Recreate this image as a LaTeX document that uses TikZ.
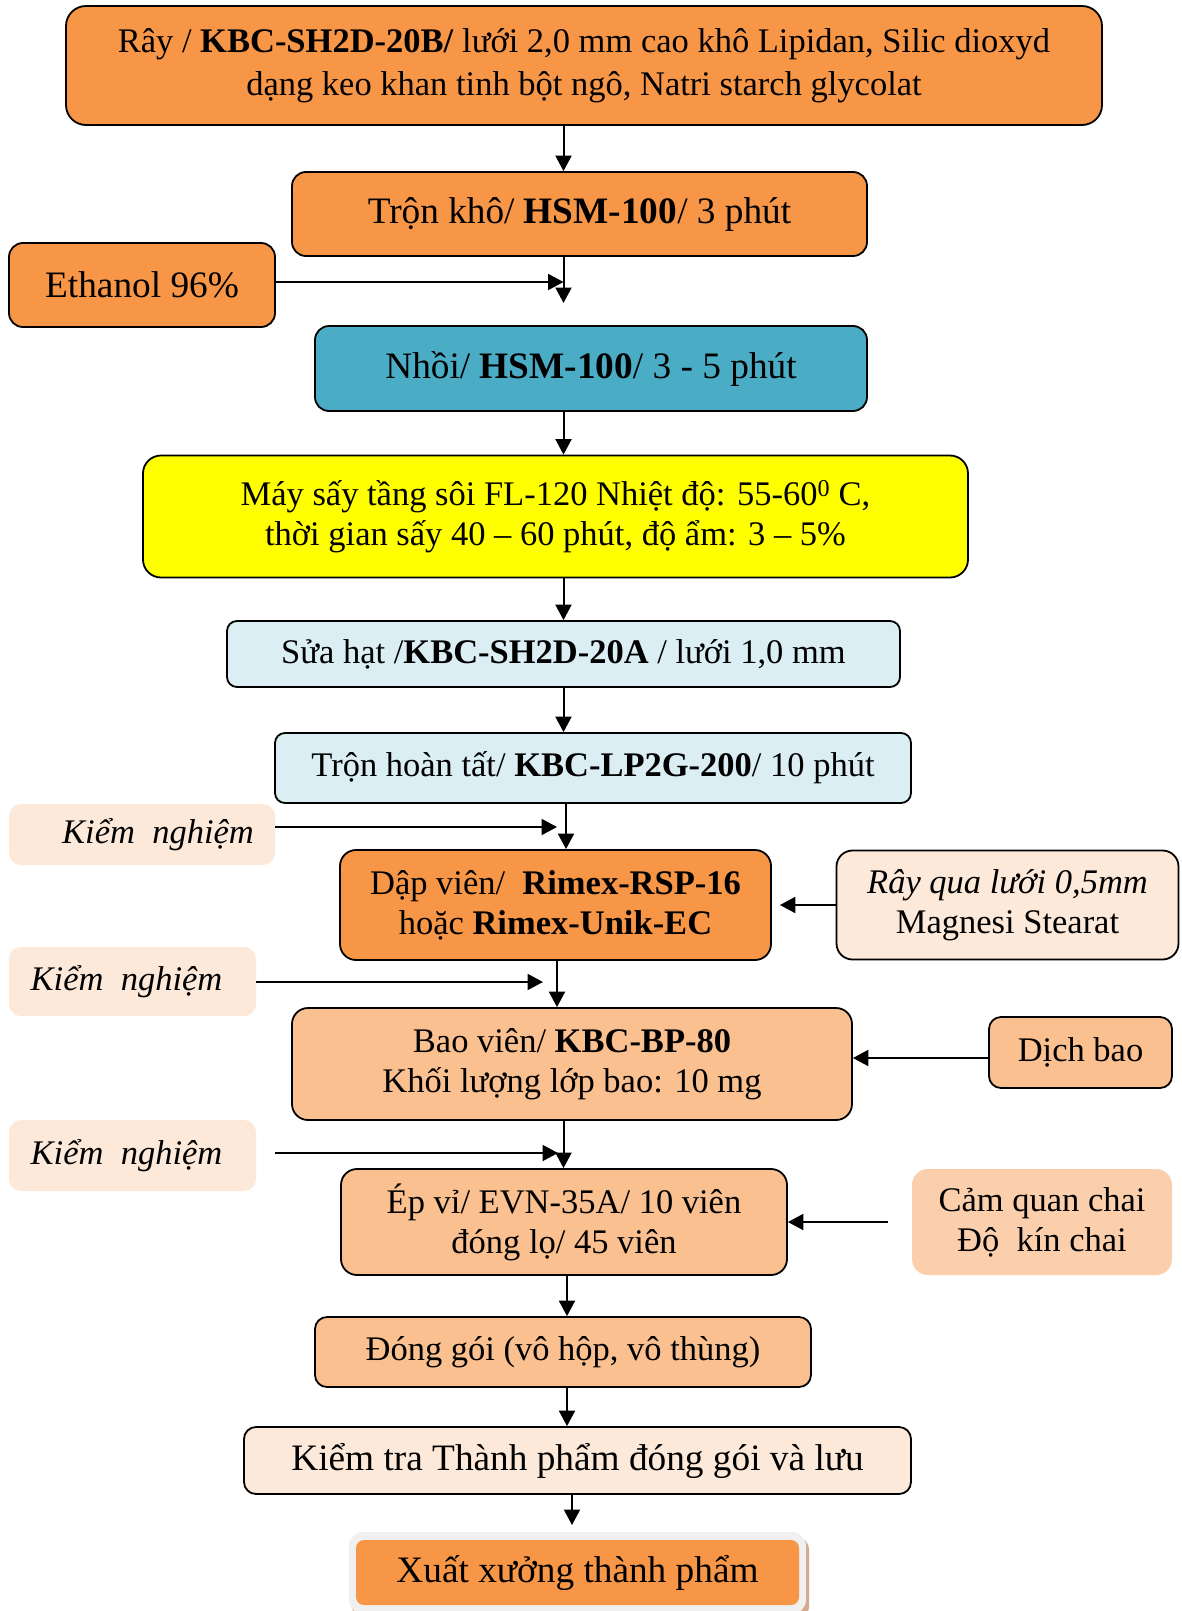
\documentclass[tikz,border=0pt]{standalone}
\usepackage{fontspec}
\setmainfont{Liberation Serif}
\usetikzlibrary{arrows.meta}
\definecolor{cOr}{HTML}{F79646}
\definecolor{cTeal}{HTML}{4BACC6}
\definecolor{cYel}{HTML}{FFFF00}
\definecolor{cLB}{HTML}{DAEEF3}
\definecolor{cPch}{HTML}{FDE9D9}
\definecolor{cLO}{HTML}{FAC090}
\definecolor{cLOb}{HTML}{FBCFAC}
\definecolor{cGr}{HTML}{F0F0F0}
\definecolor{cSh}{HTML}{D2A98B}
\newcommand\fsA{\fontsize{34.5}{40}\selectfont}
\newcommand\fsAw{\fontsize{34.5}{43}\selectfont}
\newcommand\fsB{\fontsize{37.3}{43}\selectfont}
\begin{document}
\begin{tikzpicture}[x=1pt,y=-1pt,
 box/.style={draw=black,line width=1.8pt,rounded corners=14pt,inner sep=0pt,align=center,font=\fsA},
 soft/.style={rounded corners=12pt,inner sep=0pt,align=center,font=\fsA},
 arr/.style={line width=2pt,-{Triangle[length=15.5pt,width=16pt]}}]
\useasboundingbox (0,0) rectangle (1182,1611);
\clip (0,0) rectangle (1182,1611);
\fill[white] (0,0) rectangle (1182,1611);

% nodes
\node[box,fill=cOr,rounded corners=20pt,font=\fsAw,minimum width=1036pt,minimum height=119pt] (b1) at (584,65.5)
 {Rây / \textbf{KBC-SH2D-20B/} lưới 2,0 mm cao khô Lipidan, Silic dioxyd\\dạng keo khan tinh bột ngô, Natri starch glycolat};
\node[box,fill=cOr,font=\fsB,minimum width=575pt,minimum height=84pt] (b2) at (579.5,214)
 {Trộn khô/ \textbf{HSM-100}/ 3 phút};
\node[box,fill=cOr,font=\fsB,minimum width=266pt,minimum height=84pt] (eth) at (142,285)
 {Ethanol 96\%};
\node[box,fill=cTeal,font=\fsB,minimum width=552pt,minimum height=85pt] (b3) at (591,368.5)
 {Nhồi/ \textbf{HSM-100}/ 3 - 5 phút};
\node[box,fill=cYel,rounded corners=18pt,minimum width=825pt,minimum height=122pt] (b4) at (555.5,516.5)
 {Máy sấy tầng sôi FL-120 Nhiệt độ: 55-60\textsuperscript{0} C,\\thời gian sấy 40 – 60 phút, độ ẩm: 3 – 5\%};
\node[box,fill=cLB,rounded corners=10pt,minimum width=673pt,minimum height=66pt] (b5) at (563.5,654)
 {Sửa hạt /\textbf{KBC-SH2D-20A} / lưới 1,0 mm};
\node[box,fill=cLB,rounded corners=10pt,minimum width=636pt,minimum height=70pt] (b6) at (593,768)
 {Trộn hoàn tất/ \textbf{KBC-LP2G-200}/ 10 phút};
\node[soft,fill=cPch,minimum width=266pt,minimum height=61pt] (kn1) at (142,834.5)
 {\hspace*{32pt}\textit{Kiểm~~nghiệm}};
\node[box,fill=cOr,rounded corners=16pt,minimum width=431pt,minimum height=110pt] (dv) at (555.5,905)
 {Dập viên/~~\textbf{Rimex-RSP-16}\\hoặc \textbf{Rimex-Unik-EC}};
\node[box,fill=cPch,rounded corners=16pt,minimum width=342pt,minimum height=109pt] (ray) at (1007.5,905)
 {\textit{Rây qua lưới 0,5mm}\\Magnesi Stearat};
\node[soft,fill=cPch,minimum width=247pt,minimum height=69pt] (kn2) at (132.5,981.5)
 {\textit{Kiểm~~nghiệm}\hspace*{12pt}};
\node[box,fill=cLO,rounded corners=16pt,minimum width=560pt,minimum height=112pt] (bv) at (572,1064)
 {Bao viên/ \textbf{KBC-BP-80}\\Khối lượng lớp bao: 10 mg};
\node[box,fill=cLO,rounded corners=12pt,minimum width=183pt,minimum height=71pt] (dich) at (1080.5,1052.5)
 {Dịch bao};
\node[soft,fill=cPch,minimum width=247pt,minimum height=71pt] (kn3) at (132.5,1155.5)
 {\textit{Kiểm~~nghiệm}\hspace*{12pt}};
\node[box,fill=cLO,rounded corners=16pt,minimum width=446pt,minimum height=106pt] (ep) at (564,1222)
 {Ép vỉ/ EVN-35A/ 10 viên\\đóng lọ/ 45 viên};
\node[soft,fill=cLOb,rounded corners=16pt,minimum width=260pt,minimum height=106pt] (cq) at (1042,1222)
 {Cảm quan chai\\Độ~~kín chai};
\node[box,fill=cLO,rounded corners=12pt,minimum width=496pt,minimum height=70pt] (dg) at (563,1352)
 {Đóng gói (vô hộp, vô thùng)};
\node[box,fill=cPch,rounded corners=12pt,font=\fsB,minimum width=667pt,minimum height=67pt] (kt) at (577.5,1460.5)
 {Kiểm tra Thành phẩm đóng gói và lưu};

% final box with frame and shadow
\fill[cSh,rounded corners=14pt] (352,1536) rectangle (809,1620);
\fill[cGr,rounded corners=14pt] (349,1532) rectangle (806,1614);
\node[fill=cOr,rounded corners=8pt,inner sep=0pt,font=\fsB,minimum width=443pt,minimum height=65pt] (xx) at (577.5,1572.5)
 {Xuất xưởng thành phẩm};

% helper coordinates
\coordinate (cA) at (563.5,0);
\coordinate (cB) at (566,0);
\coordinate (cC) at (557,0);
\coordinate (cD) at (567,0);
\coordinate (t2) at (563.5,303);
\coordinate (j1) at (563.5,282);
\coordinate (j2) at (557,827);
\coordinate (j3) at (543,982);
\coordinate (j4) at (558,1153);
\coordinate (k1) at (0,1058);
\coordinate (t5) at (572,1525);

% connectors
\draw[arr] (b1.south -| cA) -- (b2.north -| cA);
\draw[arr] (b2.south -| t2) -- (t2);
\draw[arr] (eth.east |- j1) -- (j1);
\draw[arr] (b3.south -| cA) -- (b4.north -| cA);
\draw[arr] (b4.south -| cA) -- (b5.north -| cA);
\draw[arr] (b5.south -| cA) -- (b6.north -| cA);
\draw[arr] (b6.south -| cB) -- (dv.north -| cB);
\draw[arr] (kn1.east |- j2) -- (j2);
\draw[arr, shorten >=8pt] (ray.west) -- (dv.east);
\draw[arr] (dv.south -| cC) -- (bv.north -| cC);
\draw[arr] (kn2.east |- j3) -- (j3);
\draw[arr] (dich.west |- k1) -- (bv.east |- k1);
\draw[arr] (bv.south -| cA) -- (ep.north -| cA);
\draw[arr, shorten <=19pt] (kn3.east |- j4) -- (j4);
\draw[arr, shorten <=24pt] (cq.west) -- (ep.east);
\draw[arr] (ep.south -| cD) -- (dg.north -| cD);
\draw[arr] (dg.south -| cD) -- (kt.north -| cD);
\draw[arr] (kt.south -| t5) -- (t5);
\end{tikzpicture}
\end{document}
